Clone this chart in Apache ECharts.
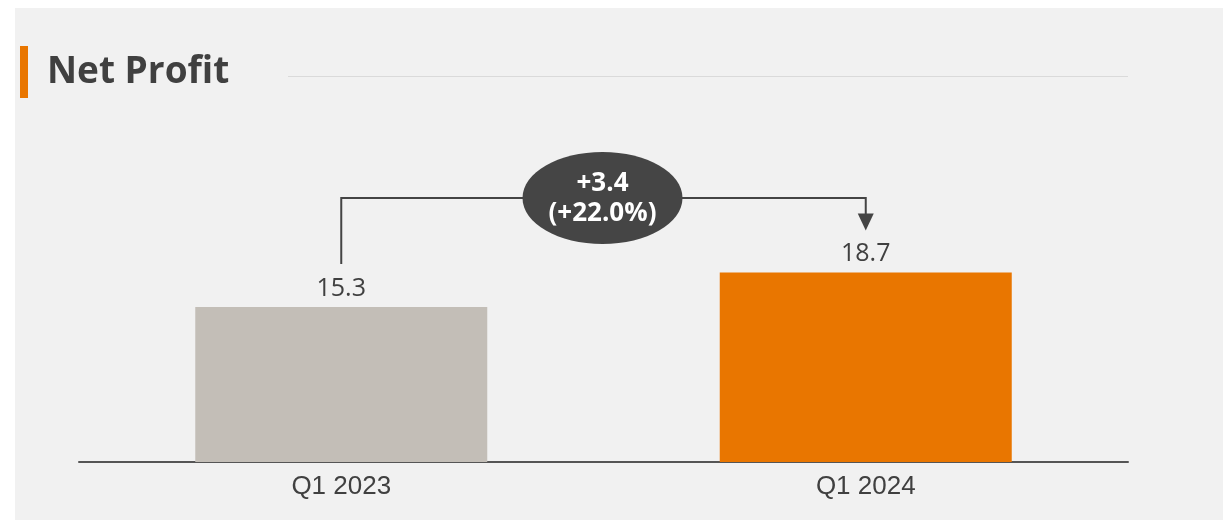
<!DOCTYPE html>
<html>
<head>
<meta charset="utf-8">
<title>Net Profit</title>
<script src="https://cdn.jsdelivr.net/npm/echarts@6/dist/echarts.min.js"></script>
<style>
  html, body { margin: 0; padding: 0; background: #fff; }
  #chart { width: 1223px; height: 521px; }
</style>
</head>
<body>
<div id="chart"></div>
<script>
// data
var categories = ['Q1 2023', 'Q1 2024']
var profit = [15.3, 18.7]
var barColors = ['#c3beb7', '#e97600']
var deltaLines = ['+3.4', '(+22.0%)']
var titleText = 'Net Profit'

var chart = echarts.init(document.getElementById('chart'))

var options = {
  backgroundColor: '#ffffff',
  animation: false,
  grid: {
    left: 79,
    right: 95,
    top: 158,
    bottom: 59
  },
  xAxis: {
    type: 'category',
    data: categories,
    axisTick: { show: false },
    axisLine: { lineStyle: { color: '#555555', width: 2 } },
    axisLabel: {
      color: '#404040',
      fontFamily: 'Liberation Sans',
      fontSize: 26,
      margin: 12
    }
  },
  yAxis: {
    type: 'value',
    min: 0,
    max: 30,
    show: false,
    splitLine: { show: false }
  },
  series: [
    {
      type: 'bar',
      barWidth: 292,
      data: profit.map(function (v, i) {
        return { value: v, itemStyle: { color: barColors[i] } }
      }),
      label: {
        show: true,
        position: 'top',
        distance: 6,
        color: '#404040',
        fontFamily: 'Open Sans',
        fontSize: 25,
        formatter: function (p) { return p.value.toFixed(1) }
      }
    }
  ]
}

chart.setOption(options)

// connector between the two bars, placed with the chart's own scales
var p0 = chart.convertToPixel({ seriesIndex: 0 }, [0, profit[0]])
var p1 = chart.convertToPixel({ seriesIndex: 0 }, [1, profit[1]])
var topY = 198
var midX = (p0[0] + p1[0]) / 2 - 1
var lineColor = '#444444'

chart.setOption({
  graphic: [
    // panel
    {
      type: 'rect',
      z: -10,
      shape: { x: 15, y: 8, width: 1208, height: 512 },
      style: { fill: '#f1f1f1' }
    },
    // title marker
    {
      type: 'rect',
      shape: { x: 20, y: 46, width: 8, height: 52 },
      style: { fill: '#e97600' }
    },
    {
      type: 'text',
      x: 47,
      y: 72,
      style: {
        text: titleText,
        fill: '#404040',
        font: 'bold 37px "Open Sans"',
        verticalAlign: 'middle'
      }
    },
    {
      type: 'line',
      shape: { x1: 288, y1: 76.5, x2: 1128, y2: 76.5 },
      style: { stroke: '#dadada', lineWidth: 1 }
    },
    // connector
    {
      type: 'polyline',
      shape: {
        points: [
          [p0[0], p0[1] - 43],
          [p0[0], topY],
          [p1[0], topY],
          [p1[0], p1[1] - 58]
        ]
      },
      style: { stroke: lineColor, lineWidth: 2, fill: null }
    },
    {
      type: 'polygon',
      shape: {
        points: [
          [p1[0] - 8, p1[1] - 59],
          [p1[0] + 8, p1[1] - 59],
          [p1[0], p1[1] - 42]
        ]
      },
      style: { fill: lineColor }
    },
    {
      type: 'ellipse',
      shape: { cx: midX, cy: topY, rx: 80, ry: 46 },
      style: { fill: '#454545' }
    },
    {
      type: 'text',
      x: midX,
      y: topY + 1,
      style: {
        text: deltaLines.join('\n'),
        fill: '#ffffff',
        font: 'bold 26px "Open Sans"',
        lineHeight: 30,
        align: 'center',
        verticalAlign: 'middle'
      }
    }
  ]
})
</script>
</body>
</html>
